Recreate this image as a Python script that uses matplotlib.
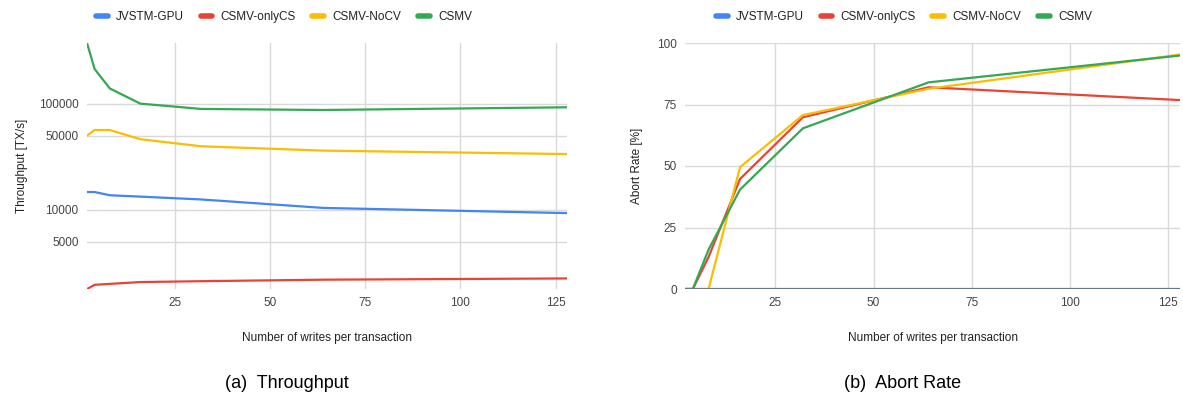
import matplotlib.pyplot as plt
from matplotlib.ticker import FixedLocator, NullLocator, FuncFormatter

# writes per transaction
writes = [2, 4, 8, 16, 32, 64, 128]

# throughput [TX/s]
tp_jvstm   = [14700, 14700, 13700, 13300, 12500, 10400, 9290]
tp_onlycs  = [1780, 1950, 1990, 2070, 2110, 2180, 2240]
tp_nocv    = [50100, 56700, 56700, 46400, 39800, 36200, 33600]
tp_csmv    = [377000, 214000, 140000, 100700, 89700, 87700, 93000]

# abort rate [%]
ab_jvstm   = [0, 0, 0, 0, 0, 0, 0]
ab_onlycs  = [0, 0, 13, 44.7, 69.8, 82, 76.8]
ab_nocv    = [0, 0, 0, 49.5, 70.7, 81.4, 95.3]
ab_csmv    = [0, 0, 16, 40.4, 65.3, 84, 94.9]

names  = ["JVSTM-GPU", "CSMV-onlyCS", "CSMV-NoCV", "CSMV"]
colors = ["#4285F4", "#EA4335", "#FBBC04", "#34A853"]

plt.rcParams["font.family"] = ["Liberation Sans", "DejaVu Sans"]

fig = plt.figure(figsize=(11.83, 3.96), dpi=100)
W, H = 1183, 396

def px_axes(x0, x1, y0, y1):
    return fig.add_axes([x0 / W, 1 - y1 / H, (x1 - x0) / W, (y1 - y0) / H])

ax1 = px_axes(87, 567, 43, 289)
ax2 = px_axes(685, 1180, 43, 289)

def style(ax):
    for s in ax.spines.values():
        s.set_visible(False)
    ax.set_xlim(2, 128)
    ax.xaxis.set_major_locator(FixedLocator([25, 50, 75, 100, 125]))
    ax.grid(True, color="#d9d9d9", linewidth=1)
    ax.set_axisbelow(True)
    ax.tick_params(length=0, labelsize=8.5, labelcolor="#444444", pad=6)
    ax.set_xlabel("Number of writes per transaction", fontsize=8.5,
                  color="#222222", labelpad=16)

# ── Left: throughput ─────────────────────────────────────────────────────────
for ys, c in zip([tp_jvstm, tp_onlycs, tp_nocv, tp_csmv], colors):
    ax1.plot(writes, ys, color=c, linewidth=1.6, solid_capstyle="round")
ax1.set_yscale("log")
ax1.set_ylim(1780, 377000)
ax1.yaxis.set_major_locator(FixedLocator([5000, 10000, 50000, 100000]))
ax1.yaxis.set_minor_locator(NullLocator())
ax1.yaxis.set_major_formatter(FuncFormatter(lambda v, p: f"{int(v)}"))
style(ax1)
ax1.set_ylabel("Throughput [TX/s]", fontsize=8.5, color="#222222", labelpad=8)

# ── Right: abort rate ────────────────────────────────────────────────────────
for ys, c in zip([ab_jvstm, ab_onlycs, ab_nocv, ab_csmv], colors):
    ax2.plot(writes, ys, color=c, linewidth=1.6, solid_capstyle="round")
ax2.axhline(0, color="#66758a", linewidth=2, zorder=5)
ax2.set_ylim(0, 100)
ax2.yaxis.set_major_locator(FixedLocator([0, 25, 50, 75, 100]))
style(ax2)
ax2.set_ylabel("Abort Rate [%]", fontsize=8.5, color="#222222", labelpad=10)

# legends
handles = [plt.Line2D([], [], color=c, linewidth=4, solid_capstyle="round")
           for c in colors]
for cx in (284 / W, 904 / W):
    fig.legend(handles, names, loc="center", bbox_to_anchor=(cx, 1 - 17 / H),
               ncol=4, frameon=False, fontsize=8.5, handlelength=1.0,
               handletextpad=0.7, columnspacing=1.4, labelcolor="#222222")

# captions
fig.text(287 / W, 1 - 383 / H, "(a)  Throughput", ha="center", va="center",
         fontsize=13, family="Liberation Sans")
fig.text(903 / W, 1 - 383 / H, "(b)  Abort Rate", ha="center", va="center",
         fontsize=13, family="Liberation Sans")

fig.savefig("out.png", dpi=100)
